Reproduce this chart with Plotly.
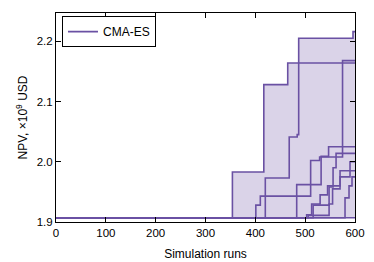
import numpy as np
import plotly.graph_objects as go

# step change points (simulation run) and best-so-far NPV (x1e9 USD) for each CMA-ES run
run_x = [
    [0, 354, 417, 465, 600],
    [0, 420, 468, 484, 487, 596, 600],
    [0, 401, 410, 511, 529, 575, 600],
    [0, 483, 532, 547, 600],
    [0, 506, 548, 555, 570, 590, 600],
    [0, 516, 548, 556, 562, 600],
    [0, 503, 513, 530, 545, 570, 600],
    [0, 580, 588, 594, 600],
    [0, 600],
]
run_y = [
    [1.907, 1.983, 2.128, 2.164, 2.164],
    [1.907, 1.973, 2.041, 2.045, 2.205, 2.216, 2.216],
    [1.907, 1.928, 1.943, 2.002, 2.008, 2.168, 2.168],
    [1.907, 1.962, 2.009, 2.025, 2.025],
    [1.907, 1.911, 1.930, 1.955, 1.975, 2.000, 2.000],
    [1.907, 1.928, 1.958, 1.990, 2.014, 2.014],
    [1.907, 1.912, 1.930, 1.945, 1.960, 1.985, 1.985],
    [1.907, 1.940, 1.960, 1.975, 1.975],
    [1.907, 1.907],
]
x_ticks = [0, 100, 200, 300, 400, 500, 600]
y_ticks = [1.9, 2.0, 2.1, 2.2]

LINE = "#6a51a3"
FILL = "rgba(106,81,163,0.25)"
FONT = "Liberation Sans, Arial, sans-serif"

# envelope of all runs on the union of change points
grid = sorted(set(v for xs in run_x for v in xs))
def step_val(xs, ys, g):
    idx = np.searchsorted(xs, g, side="right") - 1
    return np.array(ys)[idx]
vals = np.array([step_val(np.array(xs), ys, np.array(grid)) for xs, ys in zip(run_x, run_y)])
env_min = vals.min(axis=0)
env_max = vals.max(axis=0)

fig = go.Figure()
fig.add_trace(go.Scatter(x=grid, y=env_min, mode="lines", line=dict(width=0, shape="hv"),
                         showlegend=False, hoverinfo="skip"))
fig.add_trace(go.Scatter(x=grid, y=env_max, mode="lines", line=dict(width=0, shape="hv"),
                         fill="tonexty", fillcolor=FILL, showlegend=False, hoverinfo="skip"))
for i, (xs, ys) in enumerate(zip(run_x, run_y)):
    fig.add_trace(go.Scatter(x=xs, y=ys, mode="lines", name="CMA-ES",
                             line=dict(color=LINE, width=1.6, shape="hv"),
                             showlegend=(i == 0)))

axis_common = dict(showline=True, linecolor="black", linewidth=1, mirror="ticks",
                   ticks="inside", ticklen=5, tickwidth=1, tickcolor="black",
                   showgrid=False, zeroline=False, automargin=False,
                   tickfont=dict(family=FONT, size=11.5, color="black"))
fig.update_xaxes(range=[0, 600], tickvals=x_ticks,
                 title=dict(text="Simulation runs", font=dict(family=FONT, size=12, color="black"),
                            standoff=11),
                 **axis_common)
fig.update_yaxes(range=[1.9, 2.247], tickvals=y_ticks, tickformat=".1f",
                 title=dict(text="NPV, ×10<sup>9</sup> USD", font=dict(family=FONT, size=12, color="black"),
                            standoff=6),
                 **axis_common)
# page body has an 8px default margin, so the figure is shrunk by 8px on each axis
fig.update_layout(
    width=366, height=254,
    margin=dict(l=48, r=19, t=5, b=40),
    plot_bgcolor="white", paper_bgcolor="white",
    font=dict(family=FONT, size=12, color="black"),
    legend=dict(x=0.02, y=0.985, xanchor="left", yanchor="top",
                bordercolor="black", borderwidth=1, bgcolor="white",
                font=dict(family=FONT, size=12, color="black"),
                itemwidth=30, tracegroupgap=0),
)
fig.write_html("out.html")
